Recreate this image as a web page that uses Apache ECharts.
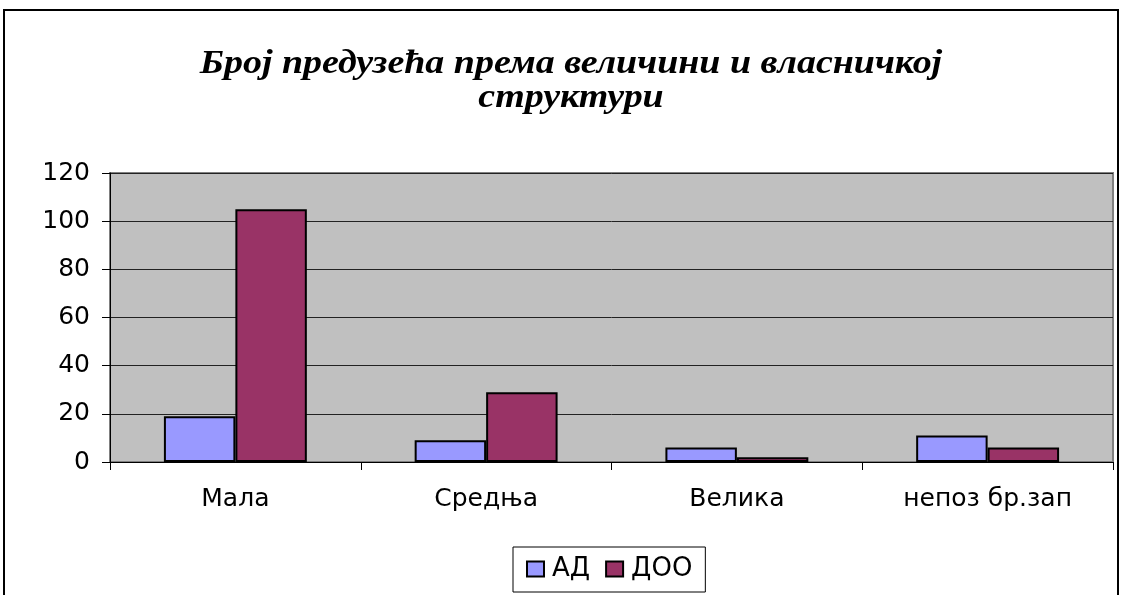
<!DOCTYPE html>
<html>
<head>
<meta charset="utf-8">
<script src="https://cdn.jsdelivr.net/npm/echarts@6/dist/echarts.min.js"></script>
<style>html,body{margin:0;padding:0;background:#fff;}#c{width:1121px;height:595px;}</style>
</head>
<body>
<div id="c"></div>
<script>
const categories = ['Мала', 'Средња', 'Велика', 'непоз бр.зап'];
const seriesNames = ['АД', 'ДОО'];
const valuesAD = [19, 9, 6, 11];
const valuesDOO = [105, 29, 2, 6];
const yTicks = { min: 0, max: 120, interval: 20 };
const titleLines = ['Број предузећа према величини и власничкој', 'структури'];

const chart = echarts.init(document.getElementById('c'), null, { renderer: 'canvas' });
const sans = 'DejaVu Sans, Arial, sans-serif';
const titleStyle = {
  fontFamily: 'Liberation Serif, Times New Roman, serif',
  fontStyle: 'italic', fontWeight: 'bold', fontSize: 33,
  fill: '#000', textAlign: 'center', textVerticalAlign: 'top'
};
chart.setOption({
  animation: false,
  backgroundColor: '#ffffff',
  graphic: [{
    type: 'rect',
    shape: { x: 4, y: 10, width: 1114, height: 620 },
    style: { fill: 'none', stroke: '#000', lineWidth: 2 },
    silent: true
  }, {
    type: 'text', x: 571, y: 48, scaleX: 1.15,
    style: Object.assign({ text: titleLines[0] }, titleStyle),
    silent: true
  }, {
    type: 'text', x: 571, y: 82, scaleX: 1.15,
    style: Object.assign({ text: titleLines[1] }, titleStyle),
    silent: true
  }],
  legend: {
    data: seriesNames,
    left: 513,
    top: 547,
    orient: 'horizontal',
    icon: 'rect',
    itemWidth: 17,
    itemHeight: 15,
    itemGap: 15,
    padding: [9, 13, 10, 13],
    borderColor: '#000',
    borderWidth: 1,
    textStyle: { fontFamily: sans, fontSize: 26, lineHeight: 26, color: '#000', padding: [0, 0, 0, 3] }
  },
  grid: {
    left: 110, right: 8, top: 173, bottom: 133,
    show: true,
    backgroundColor: '#C0C0C0',
    borderColor: '#808080',
    borderWidth: 2
  },
  xAxis: {
    type: 'category',
    data: categories,
    axisLine: { show: true, lineStyle: { color: '#000', width: 1 } },
    axisTick: { show: true, length: 8, lineStyle: { color: '#000' } },
    axisLabel: { fontFamily: sans, fontSize: 25, color: '#000', margin: 25 },
    splitLine: { show: false }
  },
  yAxis: {
    type: 'value',
    min: yTicks.min, max: yTicks.max, interval: yTicks.interval,
    axisLine: { show: true, lineStyle: { color: '#000', width: 1 } },
    axisTick: { show: true, length: 8, lineStyle: { color: '#000' } },
    axisLabel: { fontFamily: sans, fontSize: 25, color: '#000', margin: 20 },
    splitLine: { show: true, lineStyle: { color: '#222', width: 1 } }
  },
  series: [{
    name: seriesNames[0], type: 'bar', data: valuesAD,
    barGap: '0%', barCategoryGap: '43%',
    itemStyle: { color: '#9999FF', borderColor: '#000', borderWidth: 2 }
  }, {
    name: seriesNames[1], type: 'bar', data: valuesDOO,
    barGap: '0%', barCategoryGap: '43%',
    itemStyle: { color: '#993366', borderColor: '#000', borderWidth: 2 }
  }]
});
</script>
</body>
</html>
